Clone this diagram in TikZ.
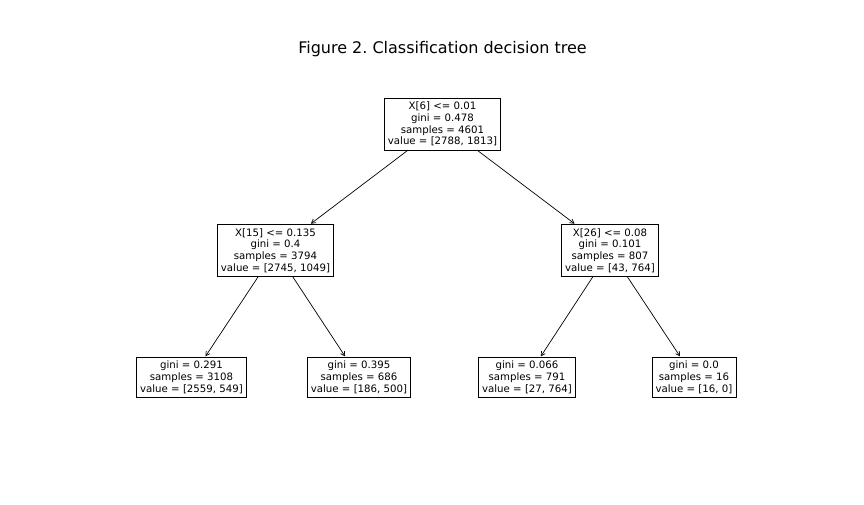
\documentclass[tikz,border=0pt]{standalone}
\usepackage{fontspec}
\setmainfont{DejaVu Sans}
\usetikzlibrary{arrows.meta}
\frenchspacing
\begin{document}
\begin{tikzpicture}[x=1pt,y=-1pt,
  treenode/.style={draw=black, line width=0.7pt, fill=white, align=center,
    font=\fontsize{10.2}{11.8}\selectfont, inner xsep=3.5pt, inner ysep=3.6pt},
  edge/.style={line width=0.7pt, -{Straight Barb[length=4pt,width=4.5pt]}, shorten >=1pt}]
\useasboundingbox (0,0) rectangle (864,504);
\node[font=\fontsize{16}{19}\selectfont] (title) at (442.5,49) {Figure 2. Classification decision tree};

\node[treenode] (n0) at (442.5,124) {X[6] <= 0.01\\gini = 0.478\\samples = 4601\\value = [2788, 1813]};
\node[treenode] (n1) at (275.5,250.5) {X[15] <= 0.135\\gini = 0.4\\samples = 3794\\value = [2745, 1049]};
\node[treenode] (n4) at (610,250.5) {X[26] <= 0.08\\gini = 0.101\\samples = 807\\value = [43, 764]};
\node[treenode] (n2) at (191.5,377.5) {gini = 0.291\\samples = 3108\\value = [2559, 549]};
\node[treenode] (n3) at (359,377.5) {gini = 0.395\\samples = 686\\value = [186, 500]};
\node[treenode] (n5) at (527,377.5) {gini = 0.066\\samples = 791\\value = [27, 764]};
\node[treenode] (n6) at (694,377.5) {gini = 0.0\\samples = 16\\value = [16, 0]};

\draw[edge] (n0) -- (n1);
\draw[edge] (n0) -- (n4);
\draw[edge] (n1) -- (n2);
\draw[edge] (n1) -- (n3);
\draw[edge] (n4) -- (n5);
\draw[edge] (n4) -- (n6);
\end{tikzpicture}
\end{document}
